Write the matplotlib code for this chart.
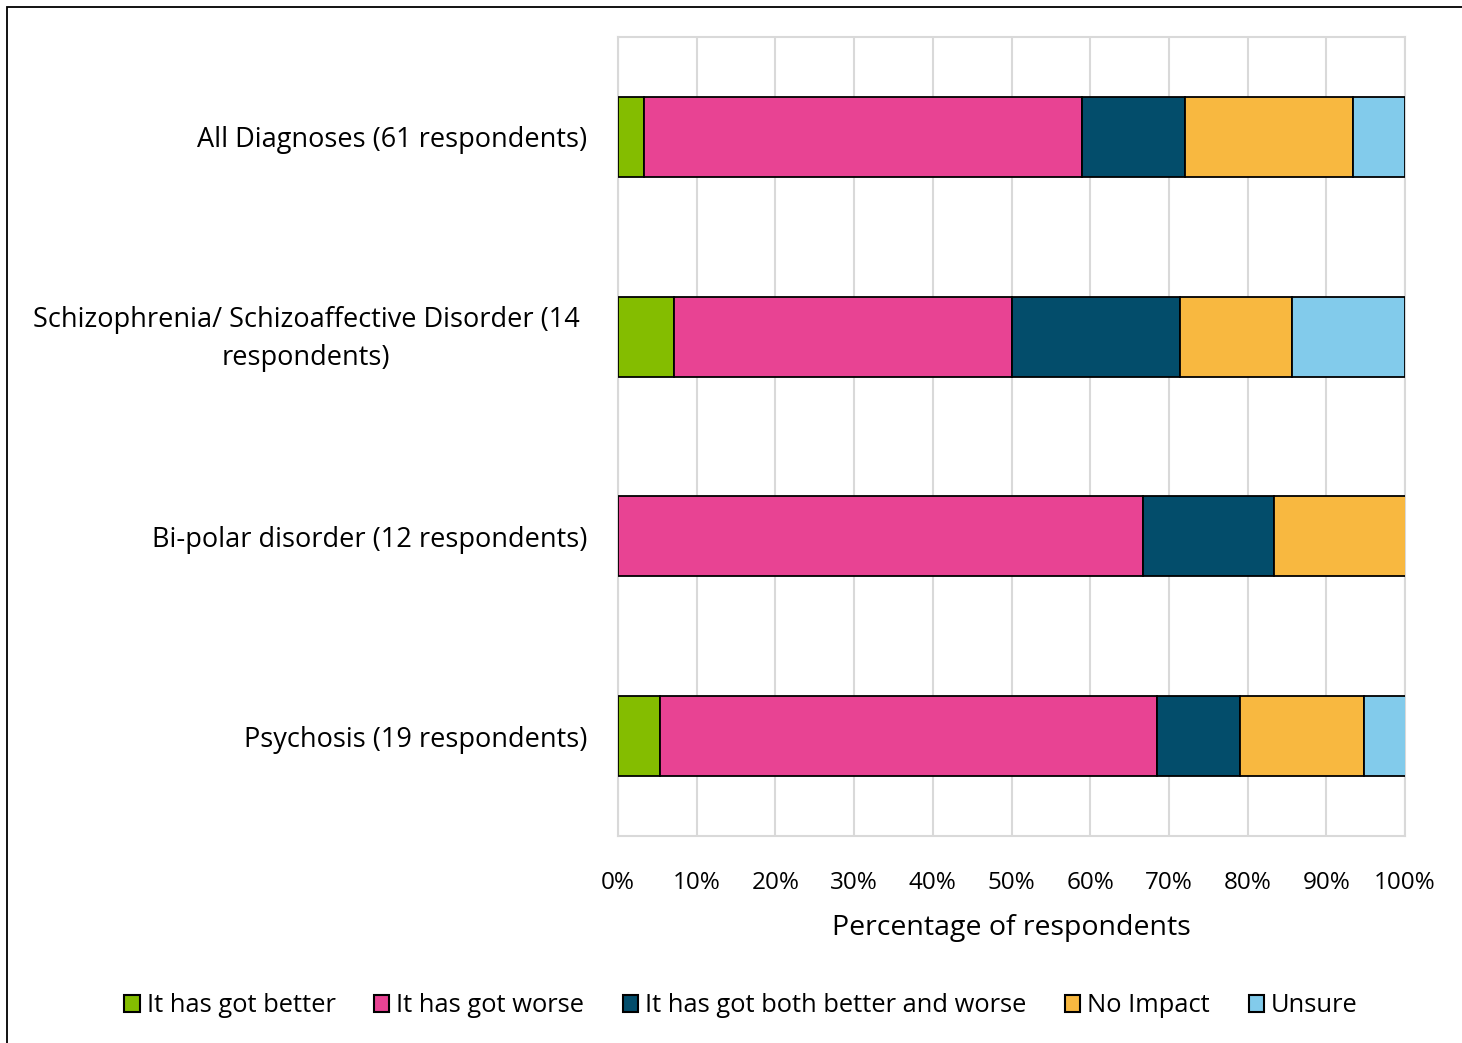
import matplotlib
matplotlib.use("Agg")
import matplotlib.pyplot as plt
import matplotlib.transforms as mtransforms
import numpy as np
from matplotlib.patches import Rectangle

# Share of respondents (%) per diagnosis group
categories = [
    "All Diagnoses (61 respondents)",
    "Schizophrenia/ Schizoaffective Disorder (14\nrespondents)",
    "Bi-polar disorder (12 respondents)",
    "Psychosis (19 respondents)",
]
better = [3.3, 7.1, 0.0, 5.3]
worse = [55.7, 42.9, 66.7, 63.2]
both = [13.1, 21.4, 16.7, 10.5]
no_impact = [21.3, 14.3, 16.7, 15.8]
unsure = [6.6, 14.3, 0.0, 5.3]

series_labels = ["It has got better", "It has got worse",
                 "It has got both better and worse", "No Impact", "Unsure"]
series_colours = ["#84bd00", "#e84393", "#034d6b", "#f8b840", "#82cbeb"]
x_ticks = np.arange(0, 101, 10)

plt.rcParams["font.family"] = ["Open Sans", "DejaVu Sans"]

fig = plt.figure(figsize=(14.62, 10.43), dpi=100)
ax = fig.add_axes([618 / 1462, 1 - 836 / 1043, 787 / 1462, 799 / 1043])

y = np.arange(len(categories))
left = np.zeros(len(categories))
for vals, lab, col in zip([better, worse, both, no_impact, unsure],
                          series_labels, series_colours):
    vals = np.asarray(vals)
    ax.barh(y, vals, left=left, height=0.4, color=col, edgecolor="black",
            linewidth=1.3, label=lab, zorder=3)
    left += vals

ax.set_xlim(0, 100)
ax.set_ylim(len(categories) - 0.5, -0.5)
ax.set_xticks(x_ticks)
ax.set_xticklabels([f"{t}%" for t in x_ticks])
ax.set_yticks(y)
ax.set_yticklabels(categories)
ax.tick_params(axis="y", length=0, pad=22, labelsize=19.5)
ax.tick_params(axis="x", length=0, pad=25, labelsize=17.5)
ax.grid(axis="x", color="#d9d9d9", linewidth=1.5, zorder=0)
for s in ax.spines.values():
    s.set_color("#d9d9d9")
    s.set_linewidth(1.5)
ax.set_xlabel("Percentage of respondents", fontsize=20.5, labelpad=14)

# the wrapped label is centred under its first line, like the reference
ylabs = ax.get_yticklabels()
ylabs[1].set_ha("center")
ylabs[1].set_linespacing(1.45)
ylabs[1].set_transform(ax.get_yaxis_transform() +
                       mtransforms.ScaledTranslation(0, 6 / 100, fig.dpi_scale_trans))
ylabs[1].set_position((-0.396, 1))

leg = fig.legend(loc="center", bbox_to_anchor=(741 / 1462, 1 - 1006 / 1043),
                 ncol=5, frameon=False, fontsize=18.4, handlelength=0.6,
                 handleheight=0.6, handletextpad=0.28, columnspacing=1.5)
for h in leg.legend_handles:
    h.set_linewidth(1.5)

fig.patches.append(Rectangle((7 / 1462, -0.1), 1.2, 1.1 - 7 / 1043,
                             transform=fig.transFigure, fill=False,
                             edgecolor="black", linewidth=1.3))

fig.savefig("out.png", dpi=100, facecolor="white")
